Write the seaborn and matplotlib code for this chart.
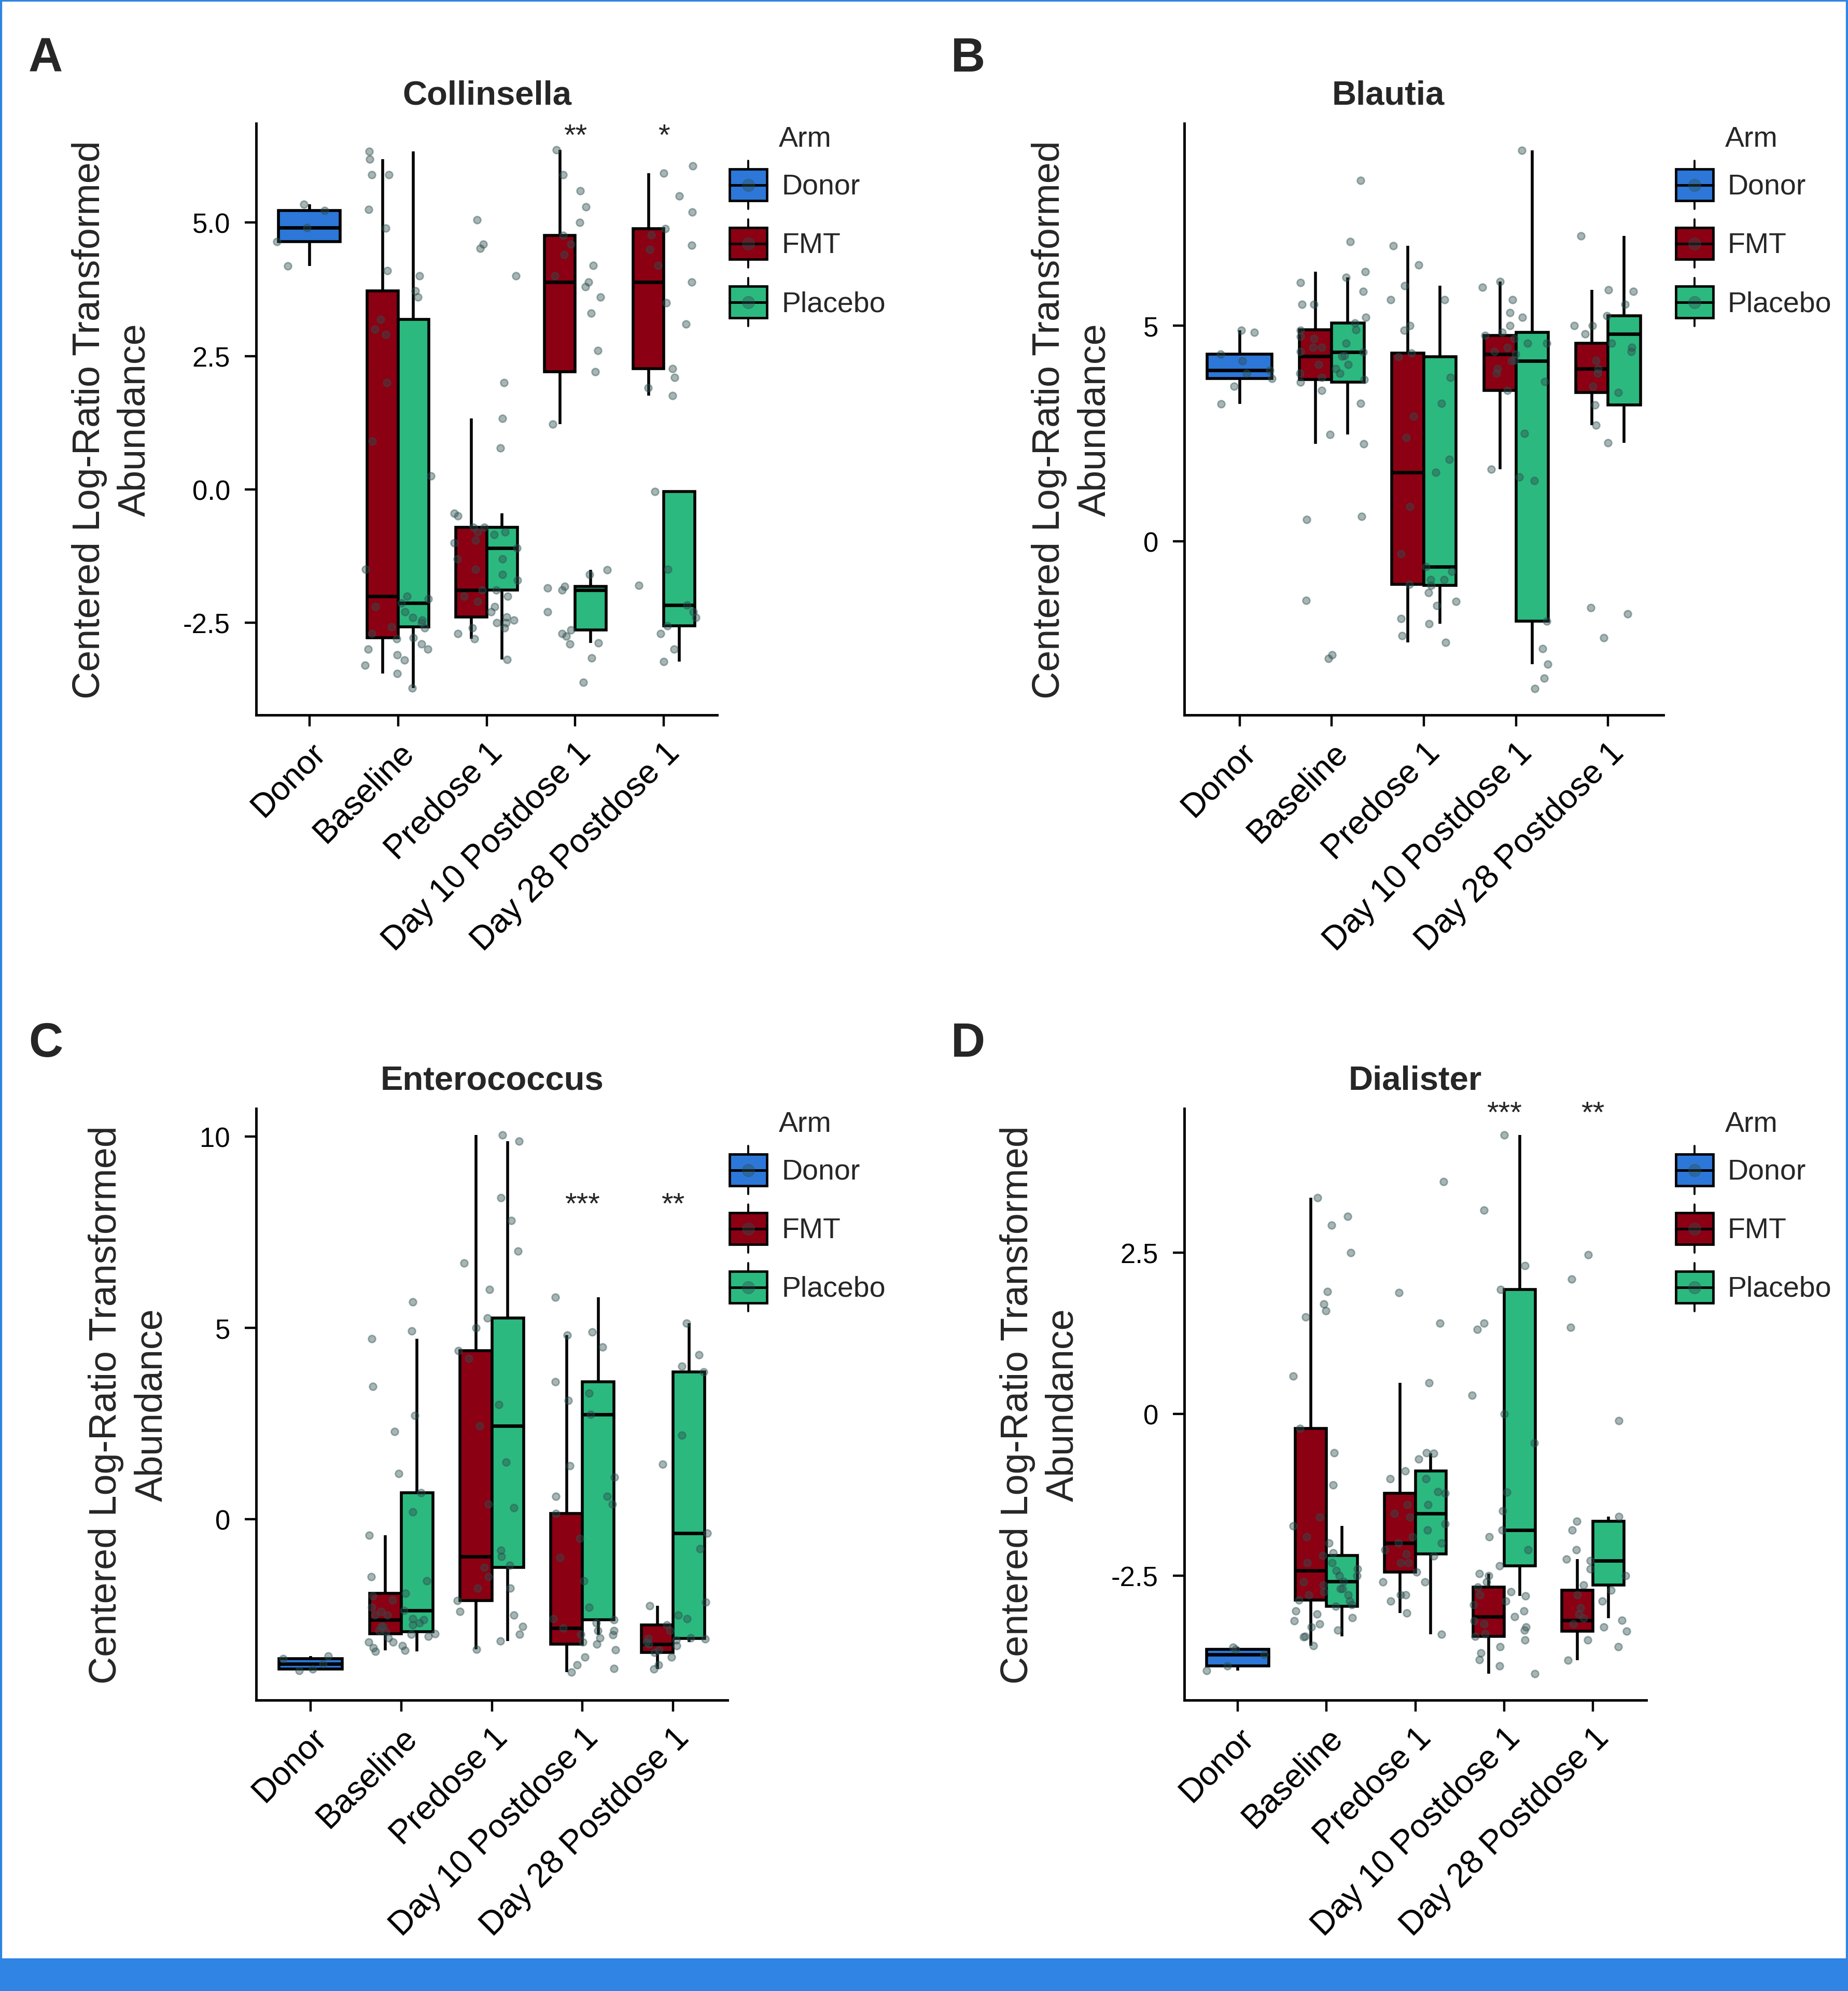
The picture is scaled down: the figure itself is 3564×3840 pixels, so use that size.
import numpy as np
import pandas as pd
import matplotlib
matplotlib.use("Agg")
import matplotlib.pyplot as plt
import matplotlib.transforms as mtransforms
from matplotlib.legend_handler import HandlerBase
from matplotlib.lines import Line2D
from matplotlib.patches import Patch, Rectangle
import seaborn as sns

# --- data ---
timepoints = ["Donor", "Baseline", "Predose 1", "Day 10 Postdose 1", "Day 28 Postdose 1"]
visits = timepoints[1:]
arms = ["Donor", "FMT", "Placebo"]
arm_colors = ["#2c77d8", "#8b0012", "#2bb97f"]
point_color = "#2f4f4f"
frame_blue = "#3084e3"

# Collinsella (panel A)
collinsella_donor = [4.19, 4.64, 4.91, 5.23, 5.34]
collinsella_fmt = [
    [-3.45, -3.3, -3.1, -3.0, -2.9, -2.78, -2.7, -2.6, -2.45, -2.2, -2.0, -1.5, 0.9, 2.9, 3.0, 3.72, 4.0, 4.1, 4.9, 5.9, 6.19],
    [-2.80, -2.7, -2.6, -2.5, -2.45, -2.39, -2.3, -2.2, -2.1, -2.0, -1.89, -1.6, -1.3, -1.0, -0.8, -0.71, 0.78, 1.33, 4.0, 4.52, 5.05],
    [-3.62, -3.16, -2.9, -2.75, 1.22, 2.20, 2.6, 3.3, 3.6, 3.8, 3.89, 4.0, 4.2, 4.4, 4.6, 4.76, 5.0, 5.3, 5.6, 5.9, 6.36],
    [1.76, 1.9, 2.1, 2.26, 3.1, 3.5, 3.89, 4.2, 4.5, 4.89, 5.2, 5.5, 5.93],
]
collinsella_placebo = [
    [-3.72, -3.2, -3.0, -2.8, -2.58, -2.5, -2.4, -2.3, -2.13, -2.05, 0.25, 2.0, 3.19, 3.6, 5.25, 5.9, 6.34],
    [-3.19, -2.6, -2.5, -2.0, -1.89, -1.7, -1.5, -1.3, -1.10, -0.95, -0.85, -0.8, -0.71, -0.5, -0.45, 2.0, 4.6],
    [-2.88, -2.7, -2.64, -2.3, -1.89, -1.85, -1.82, -1.6, -1.51],
    [-3.23, -3.0, -2.7, -2.56, -2.4, -2.3, -2.17, -1.8, -1.5, -0.04, 4.58, 4.77, 6.06],
]

# Blautia (panel B)
blautia_donor = [3.18, 3.6, 3.77, 3.9, 3.97, 4.18, 4.34, 4.85, 4.89]
blautia_fmt = [
    [-2.64, -1.38, 0.5, 0.57, 2.26, 3.75, 3.8, 3.9, 4.0, 4.1, 4.29, 4.4, 4.5, 4.6, 4.75, 4.91, 5.2, 5.5, 6.0, 6.25, 6.95],
    [-2.35, -2.2, -1.8, -1.4, -1.01, -0.9, -0.3, 0.8, 1.59, 2.4, 3.2, 3.8, 4.36, 5.0, 5.6, 6.41, 6.86],
    [-3.42, -3.18, 1.49, 1.67, 2.5, 3.50, 3.7, 3.9, 4.0, 4.2, 4.34, 4.4, 4.5, 4.6, 4.7, 4.77, 5.0, 5.3, 5.6, 5.9, 6.03],
    [-2.24, -1.55, 2.69, 3.45, 3.6, 3.9, 4.01, 4.2, 4.4, 4.60, 5.0, 5.5, 5.84],
]
blautia_placebo = [
    [-2.73, 2.48, 3.2, 3.5, 3.69, 3.9, 4.1, 4.3, 4.39, 4.5, 4.7, 4.9, 5.06, 5.5, 5.8, 6.12, 8.38],
    [-1.92, -1.5, -1.2, -1.03, -0.9, -0.7, -0.59, 1.9, 2.9, 4.28, 4.9, 5.6, 5.93],
    [-2.86, -2.5, -1.86, 1.4, 4.18, 4.6, 4.85, 5.2, 9.07],
    [-1.69, 2.28, 3.16, 4.5, 4.81, 5.0, 5.23, 5.8, 7.09],
]

# Enterococcus (panel C)
enterococcus_donor = [-3.95, -3.91, -3.77, -3.63, -3.57]
enterococcus_fmt = [
    [-3.42, -3.3, -3.2, -3.1, -3.05, -2.99, -2.9, -2.8, -2.75, -2.7, -2.62, -2.5, -2.4, -2.3, -2.1, -1.93, -1.6, -0.42, 3.47, 4.92, 5.68],
    [-3.39, -3.0, -2.8, -2.4, -2.12, -1.8, -1.5, -1.2, -0.97, 0.4, 1.5, 3.0, 4.41, 6.0, 7.0, 7.8, 10.04],
    [-3.99, -3.9, -3.8, -3.6, -3.4, -3.26, -3.2, -3.1, -3.0, -2.9, -2.84, -2.6, -2.3, -1.6, -0.5, 0.15, 0.4, 0.6, 1.1, 1.4, 4.81],
    [-3.91, -3.8, -3.6, -3.48, -3.4, -3.3, -3.26, -3.1, -2.9, -2.76, -2.5, -2.26, -0.76],
]
enterococcus_placebo = [
    [-3.45, -3.35, -3.2, -3.0, -2.93, -2.8, -2.6, -2.5, -2.38, -2.0, -1.5, 0.2, 0.69, 1.2, 2.3, 2.72, 4.72],
    [-3.18, -2.5, -1.8, -1.25, -0.8, 0.3, 2.44, 4.2, 5.0, 5.26, 6.7, 8.4, 9.88],
    [-3.02, -2.9, -2.7, -2.62, -1.0, 0.6, 2.74, 3.1, 3.3, 3.59, 4.5, 4.9, 5.80],
    [-3.20, -3.15, -3.12, -3.11, -2.6, -2.16, -0.36, 1.44, 2.2, 3.85, 4.0, 4.3, 5.13],
]

# Dialister (panel D)
dialister_donor = [-3.97, -3.90, -3.72, -3.64, -3.61]
dialister_fmt = [
    [-3.59, -3.45, -3.35, -3.25, -3.15, -3.05, -2.95, -2.88, -2.8, -2.75, -2.7, -2.65, -2.6, -2.5, -2.42,
     -2.3, -2.15, -1.9, -1.6, -1.1, -0.6, -0.22, 1.5, 1.7, 1.9, 2.5, 2.92, 3.06, 3.35],
    [-3.08, -2.9, -2.8, -2.6, -2.45, -2.3, -2.2, -2.1, -2.0, -1.8, -1.6, -1.4, -1.23, -1.0, -0.6, 0.48, 3.60],
    [-4.02, -3.9, -3.8, -3.7, -3.6, -3.5, -3.44, -3.4, -3.35, -3.3, -3.25, -3.2, -3.14, -3.05, -2.95, -2.9,
     -2.8, -2.75, -2.68, -2.47, -1.21, -0.45, 0.29, 1.31, 1.41],
    [-3.81, -3.6, -3.5, -3.36, -3.3, -3.25, -3.19, -3.1, -2.9, -2.73, -2.25, 2.09, 2.47],
]
dialister_placebo = [
    [-3.44, -3.3, -3.2, -3.1, -2.98, -2.9, -2.8, -2.7, -2.59, -2.5, -2.4, -2.3, -2.19, -2.0, -1.73, 0.59, 1.6],
    [-3.41, -2.8, -2.6, -2.3, -2.17, -2.0, -1.9, -1.7, -1.54, -1.4, -1.2, -1.0, -0.88, -0.7, -0.61, 1.41, 1.88],
    [-2.82, -2.6, -2.5, -2.35, -2.1, -1.9, -1.80, -1.5, 0.0, 1.93, 2.3, 3.16, 4.32],
    [-3.16, -3.0, -2.8, -2.65, -2.5, -2.4, -2.27, -2.1, -1.8, -1.66, -1.59, -0.1, 1.34],
]

# axis ticks and significance marks per panel
collinsella_ticks, collinsella_ticklabels = [-2.5, 0, 2.5, 5.0], ["-2.5", "0.0", "2.5", "5.0"]
blautia_ticks, blautia_ticklabels = [0, 5], ["0", "5"]
enterococcus_ticks, enterococcus_ticklabels = [0, 5, 10], ["0", "5", "10"]
dialister_ticks, dialister_ticklabels = [-2.5, 0, 2.5], ["-2.5", "0", "2.5"]
collinsella_stars = ["", "", "", "**", "*"]
blautia_stars = ["", "", "", "", ""]
enterococcus_stars = ["", "", "", "***", "**"]
dialister_stars = ["", "", "", "***", "**"]


def long_table(donor, fmt, placebo):
    rows = [("Donor", "Donor", v) for v in donor]
    for visit, f_vals, p_vals in zip(visits, fmt, placebo):
        rows += [(visit, "FMT", v) for v in f_vals]
        rows += [(visit, "Placebo", v) for v in p_vals]
    return pd.DataFrame(rows, columns=["visit", "arm", "value"])


class BoxKeyHandler(HandlerBase):
    # ggplot-like legend key: whisker, box, median and a point
    def create_artists(self, legend, orig_handle, xdescent, ydescent, width, height, fontsize, trans):
        x0, y0 = -xdescent, -ydescent
        cx, cy = x0 + width / 2, y0 + height / 2
        whisker = Line2D([cx, cx], [y0, y0 + height], color="black", lw=2.8, transform=trans)
        box = Rectangle((x0, y0 + 0.17 * height), width, 0.66 * height,
                        facecolor=orig_handle.get_facecolor(), edgecolor="black", lw=3.4, transform=trans)
        median = Line2D([x0, x0 + width], [cy, cy], color="black", lw=3.6, transform=trans)
        dot = Line2D([cx], [cy], marker="o", markersize=17, color=point_color, alpha=0.4,
                     linestyle="None", transform=trans)
        return [whisker, box, median, dot]


sns.set_style("ticks")
plt.rcParams["font.family"] = ["Liberation Sans", "DejaVu Sans"]

W, H = 3564, 3841
fig = plt.figure(figsize=(W / 100, H / 100), dpi=100)

# layout in pixels: (left, right, top, bottom) of each panel's axes, title centre, legend key left edge
panels = [
    dict(letter="A", title="Collinsella", table=long_table(collinsella_donor, collinsella_fmt, collinsella_placebo),
         box=(494, 1383, 239, 1380), title_x=939, key_x=1407, ylim=(-4.23, 6.86), ticks=collinsella_ticks,
         ticklabels=collinsella_ticklabels, stars=collinsella_stars, star_y=6.61),
    dict(letter="B", title="Blautia", table=long_table(blautia_donor, blautia_fmt, blautia_placebo),
         box=(2284, 3208, 239, 1380), title_x=2677, key_x=3232, ylim=(-4.04, 9.70), ticks=blautia_ticks,
         ticklabels=blautia_ticklabels, stars=blautia_stars, star_y=9.3),
    dict(letter="C", title="Enterococcus", table=long_table(enterococcus_donor, enterococcus_fmt, enterococcus_placebo),
         box=(494, 1403, 2139, 3280), title_x=949, key_x=1407, ylim=(-4.72, 10.73), ticks=enterococcus_ticks,
         ticklabels=enterococcus_ticklabels, stars=enterococcus_stars, star_y=8.2),
    dict(letter="D", title="Dialister", table=long_table(dialister_donor, dialister_fmt, dialister_placebo),
         box=(2284, 3175, 2139, 3280), title_x=2729, key_x=3232, ylim=(-4.43, 4.73), ticks=dialister_ticks,
         ticklabels=dialister_ticklabels, stars=dialister_stars, star_y=4.64),
]

np.random.seed(11)
xlabel_shift = mtransforms.ScaledTranslation(0.2, 0, fig.dpi_scale_trans)

for p in panels:
    left, right, top, bottom = p["box"]
    ax = fig.add_axes([left / W, 1 - bottom / H, (right - left) / W, (bottom - top) / H])
    df = p["table"]

    box_kw = dict(x="visit", y="value", order=timepoints, width=0.7, linecolor="black", linewidth=4,
                  showfliers=False, showcaps=False, saturation=1,
                  medianprops=dict(linewidth=4.8), ax=ax)
    sns.boxplot(data=df[df["arm"] == "Donor"], color=arm_colors[0], **box_kw)
    sns.boxplot(data=df[df["arm"] != "Donor"], hue="arm", hue_order=arms[1:], palette=arm_colors[1:],
                dodge=True, legend=False, **box_kw)
    sns.stripplot(data=df, x="visit", y="value", order=timepoints, color=point_color, alpha=0.42,
                  size=10, jitter=0.38, edgecolor=point_color, linewidth=2, zorder=3, ax=ax)

    ax.set_xlim(-0.6, 4.6)
    ax.set_ylim(*p["ylim"])
    ax.set_yticks(p["ticks"], p["ticklabels"])
    ax.set_xticks(range(len(timepoints)), timepoints, rotation=45, ha="right", va="top",
                  rotation_mode="anchor")
    for lab in ax.get_xticklabels():
        lab.set_transform(lab.get_transform() + xlabel_shift)
    ax.set_xlabel("")
    ax.set_ylabel("Centered Log-Ratio Transformed\nAbundance", fontsize=53, labelpad=42, linespacing=1.35)
    ax.set_title(p["title"], fontsize=47, fontweight="bold", pad=27,
                 x=(p["title_x"] - left) / (right - left))

    sns.despine(ax=ax)
    for side in ["left", "bottom"]:
        ax.spines[side].set_linewidth(3.5)
        ax.spines[side].set_color("black")
    ax.tick_params(length=16, width=3.2, color="black", labelcolor="black")
    ax.tick_params(axis="y", labelsize=38, pad=20)
    ax.tick_params(axis="x", labelsize=46, pad=14)

    for i, star in enumerate(p["stars"]):
        if star:
            ax.text(i, p["star_y"], star, ha="center", va="center", fontsize=42)

    # legend
    key_x = p["key_x"]
    handles = [Patch(facecolor=c) for c in arm_colors]
    ax.legend(handles, arms, handler_map={Patch: BoxKeyHandler()}, loc="upper left",
              bbox_to_anchor=(key_x / W, 1 - (top + 72) / H), bbox_transform=fig.transFigure,
              frameon=False, fontsize=40, handlelength=1.3, handleheight=2.2, labelspacing=0.36,
              handletextpad=0.5, borderpad=0, borderaxespad=0)
    fig.text((key_x + 95) / W, 1 - (top + 44) / H, "Arm", fontsize=40, va="baseline", ha="left")

    # panel letter
    fig.text((55 if left < 1000 else 1834) / W, 1 - (top - 101) / H, p["letter"], fontsize=66,
             fontweight="bold", ha="left", va="baseline")

# blue frame and bottom bar
fig.add_artist(Rectangle((0, 0), 1, 1, transform=fig.transFigure, fill=False, edgecolor=frame_blue, lw=6))
fig.add_artist(Rectangle((0, 0), 1, 63 / H, transform=fig.transFigure, facecolor=frame_blue, edgecolor="none"))

plt.savefig("out.png", dpi=100)
